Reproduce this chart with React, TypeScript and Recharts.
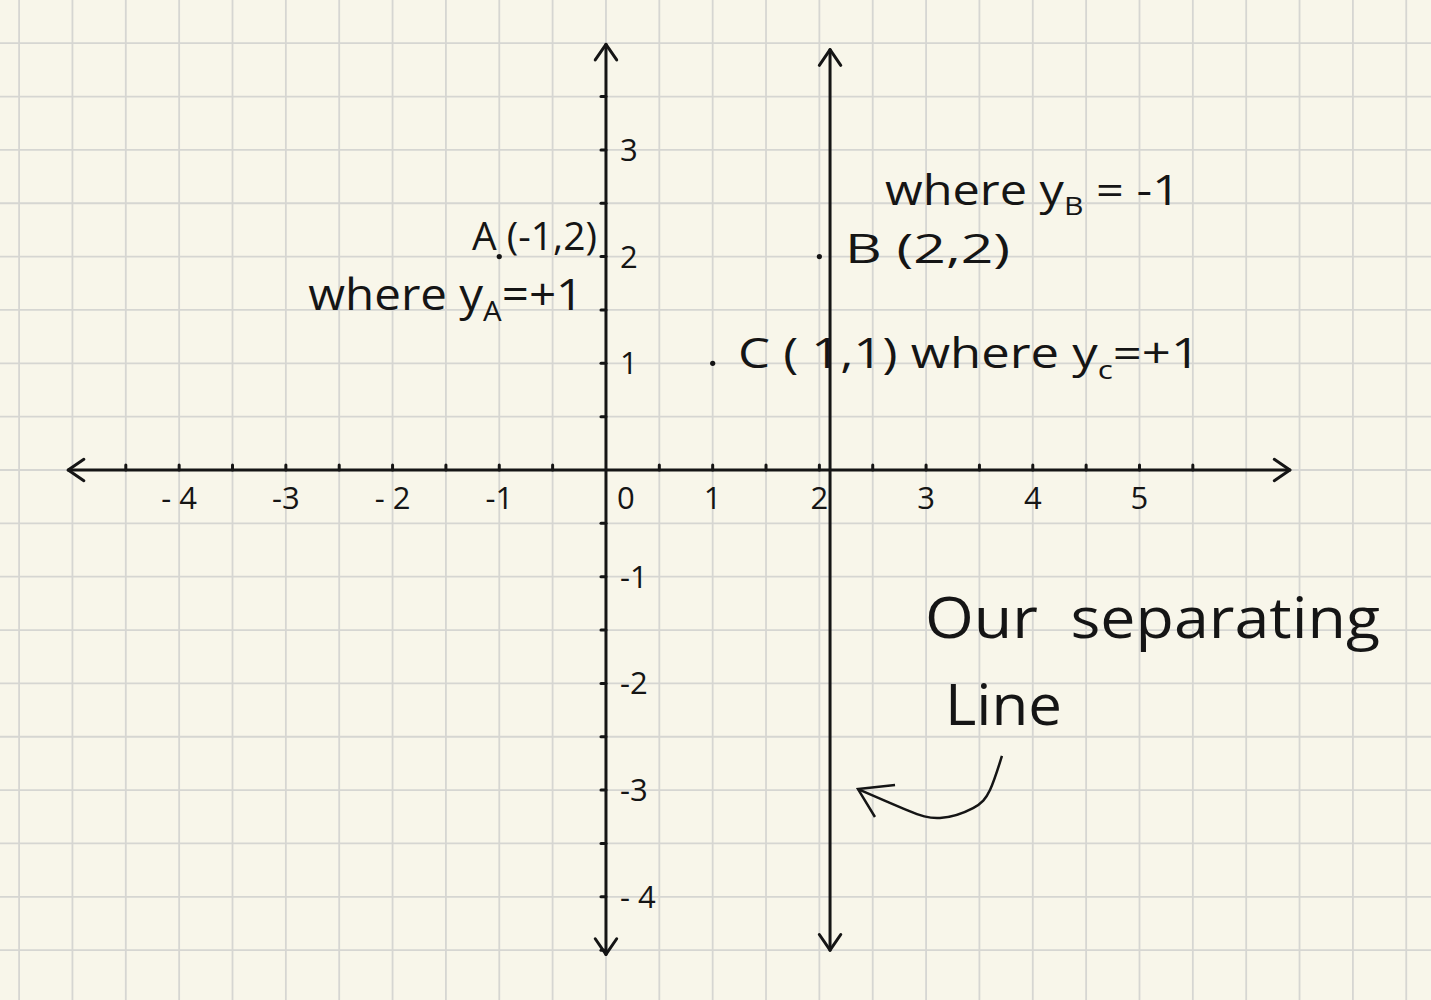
import React from 'react';
import { ComposedChart, XAxis, YAxis, CartesianGrid, ReferenceLine, Scatter, Line } from 'recharts';

// ---------- data ----------
const pointNames = ['A', 'B', 'C'];
const pointX = [-1, 2, 1];
const pointY = [2, 2, 1];

const xTickValues = [-4, -3, -2, -1, 0, 1, 2, 3, 4, 5];
const xTickLabels = ['- 4', '-3', '- 2', '-1', '0', '1', '2', '3', '4', '5'];
const yTickValues = [3, 2, 1, -1, -2, -3, -4];
const yTickLabels = ['3', '2', '1', '-1', '-2', '-3', '- 4'];
const xMinorTicks = [-4.5, -4, -3.5, -3, -2.5, -2, -1.5, -1, -0.5, 0.5, 1, 1.5, 2, 2.5, 3, 3.5, 4, 4.5, 5, 5.5];
const yMinorTicks = [3.5, 3, 2.5, 2, 1.5, 1, 0.5, -0.5, -1, -1.5, -2, -2.5, -3, -3.5, -4, -4.5];

const separatorX = 2.1;
const separatorTop = 3.94;
const separatorBottom = -4.5;
const xAxisLeft = -5.04;
const xAxisRight = 6.41;
const yAxisTop = 3.99;
const yAxisBottom = -4.54;

// graph-paper grid lines (half units)
const gridXValues = [-5.5, -5, -4.5, -4, -3.5, -3, -2.5, -2, -1.5, -1, -0.5, 0, 0.5, 1, 1.5, 2, 2.5, 3, 3.5, 4, 4.5, 5, 5.5, 6, 6.5, 7, 7.5];
const gridYValues = [4, 3.5, 3, 2.5, 2, 1.5, 1, 0.5, 0, -0.5, -1, -1.5, -2, -2.5, -3, -3.5, -4, -4.5];

// annotations: [text parts], anchor (data coords), textLength
type Part = [string, boolean];
const noteParts: Part[][] = [
  [['A (-1,2)', false]],
  [['where ', false], ['y', false], ['A', true], ['=+1', false]],
  [['where ', false], ['y', false], ['B', true], [' = -1', false]],
  [['B (2,2)', false]],
  [['C ( 1,1) where ', false], ['y', false], ['c', true], ['=+1', false]],
  [['Our  separating', false]],
  [['Line', false]],
];
const noteX = [-1.256, -2.79, 2.615, 2.24, 1.237, 2.99, 3.177];
const noteY = [2.062, 1.5, 2.484, 1.94, 0.956, -1.575, -2.39];
const noteWidth = [125, 275, 295, 165, 462, 455, 117];
const noteSize = [38, 44, 42, 40, 42, 56, 56];

// curved pointer arrow
const pointerX = [3.711, 3.599, 3.44, 3.13, 2.821, 2.362];
const pointerY = [-2.68, -2.999, -3.168, -3.261, -3.187, -2.99];
const pointerHeadX = [2.709, 2.362, 2.521];
const pointerHeadY = [-2.952, -2.99, -3.252];

// ---------- derived tables ----------
const points = pointNames.map((n, i) => ({ name: n, x: pointX[i], y: pointY[i] }));
const xTicks = xTickValues.map((v, i) => ({ x: v, y: 0, label: xTickLabels[i] }));
const yTicks = yTickValues.map((v, i) => ({ x: 0, y: v, label: yTickLabels[i] }));
const xMinor = xMinorTicks.map((v) => ({ x: v, y: 0 }));
const yMinor = yMinorTicks.map((v) => ({ x: 0, y: v }));
const notes = noteParts.map((p, i) => ({ x: noteX[i], y: noteY[i], parts: p, w: noteWidth[i], fs: noteSize[i] }));
const pointer = pointerX.map((x, i) => ({ x, y: pointerY[i] }));
const pointerHead = pointerHeadX.map((x, i) => ({ x, y: pointerHeadY[i] }));

const INK = '#151515';
const FONT = '"Open Sans", "DejaVu Sans", sans-serif';

const chevron = (tx: number, ty: number, fx: number, fy: number, len = 19, ang = 0.6) => {
  const a = Math.atan2(fy - ty, fx - tx);
  const p1 = [tx + len * Math.cos(a + ang), ty + len * Math.sin(a + ang)];
  const p2 = [tx + len * Math.cos(a - ang), ty + len * Math.sin(a - ang)];
  return `M${p1[0]},${p1[1]} L${tx},${ty} L${p2[0]},${p2[1]}`;
};

const ArrowLine = (props: any) => {
  const { x1, y1, x2, y2 } = props;
  return (
    <g>
      <line x1={x1} y1={y1} x2={x2} y2={y2} stroke={INK} strokeWidth={3} strokeLinecap="round" />
      <path d={chevron(x1, y1, x2, y2)} fill="none" stroke={INK} strokeWidth={3} strokeLinecap="round" strokeLinejoin="round" />
      <path d={chevron(x2, y2, x1, y1)} fill="none" stroke={INK} strokeWidth={3} strokeLinecap="round" strokeLinejoin="round" />
    </g>
  );
};

const XTickShape = (props: any) => {
  const { cx, cy, payload } = props;
  const dx = payload.x === 0 ? 20 : 0;
  return (
    <text x={cx + dx} y={cy + 39} textAnchor="middle" fontFamily={FONT} fontSize={31} fill={INK} style={{ whiteSpace: 'pre' }}>
      {payload.label}
    </text>
  );
};

const YTickShape = (props: any) => {
  const { cx, cy, payload } = props;
  return (
    <text x={cx + 14} y={cy + 11} textAnchor="start" fontFamily={FONT} fontSize={31} fill={INK} style={{ whiteSpace: 'pre' }}>
      {payload.label}
    </text>
  );
};

const XMinorShape = (props: any) => {
  const { cx, cy } = props;
  return <line x1={cx} y1={cy - 5} x2={cx} y2={cy} stroke={INK} strokeWidth={3} strokeLinecap="round" />;
};
const YMinorShape = (props: any) => {
  const { cx, cy } = props;
  return <line x1={cx - 5} y1={cy} x2={cx} y2={cy} stroke={INK} strokeWidth={3} strokeLinecap="round" />;
};

const DotShape = (props: any) => {
  const { cx, cy } = props;
  return <circle cx={cx} cy={cy} r={2.6} fill={INK} />;
};

const NoteShape = (props: any) => {
  const { cx, cy, payload } = props;
  const parts: Part[] = payload.parts;
  const fs: number = payload.fs;
  let subActive = false;
  return (
    <text x={cx} y={cy} fontFamily={FONT} fontSize={fs} fill={INK} textLength={payload.w} lengthAdjust="spacingAndGlyphs" style={{ whiteSpace: 'pre' }}>
      {parts.map(([t, sub], i) => {
        let dy = 0;
        if (sub && !subActive) { dy = fs * 0.25; subActive = true; }
        else if (!sub && subActive) { dy = -fs * 0.25; subActive = false; }
        return (
          <tspan key={i} dy={dy} fontSize={sub ? fs * 0.62 : fs}>
            {t}
          </tspan>
        );
      })}
    </text>
  );
};

export default function App() {
  return (
    <div style={{ position: 'absolute', left: 0, top: 0, width: 1431, height: 1000, background: '#f8f6ea', overflow: 'hidden' }}>
      <ComposedChart width={1431} height={1000} margin={{ top: 0, right: 0, bottom: 0, left: 0 }}>
        <XAxis type="number" dataKey="x" domain={[-5.679, 7.732]} allowDataOverflow hide />
        <YAxis type="number" dataKey="y" domain={[-4.967, 4.405]} allowDataOverflow hide />
        <CartesianGrid
          verticalValues={gridXValues}
          horizontalValues={gridYValues}
          stroke="#d6d6d2"
          strokeWidth={1.8}
        />
        <ReferenceLine segment={[{ x: xAxisLeft, y: 0 }, { x: xAxisRight, y: 0 }]} shape={ArrowLine} ifOverflow="visible" />
        <ReferenceLine segment={[{ x: 0, y: yAxisTop }, { x: 0, y: yAxisBottom }]} shape={ArrowLine} ifOverflow="visible" />
        <ReferenceLine segment={[{ x: separatorX, y: separatorTop }, { x: separatorX, y: separatorBottom }]} shape={ArrowLine} ifOverflow="visible" />
        <Scatter data={xMinor} dataKey="y" shape={XMinorShape} isAnimationActive={false} />
        <Scatter data={yMinor} dataKey="y" shape={YMinorShape} isAnimationActive={false} />
        <Scatter data={xTicks} dataKey="y" shape={XTickShape} isAnimationActive={false} />
        <Scatter data={yTicks} dataKey="y" shape={YTickShape} isAnimationActive={false} />
        <Scatter data={points} dataKey="y" shape={DotShape} isAnimationActive={false} />
        <Scatter data={notes} dataKey="y" shape={NoteShape} isAnimationActive={false} />
        <Line data={pointer} dataKey="y" type="natural" stroke={INK} strokeWidth={2.5} dot={false} activeDot={false} isAnimationActive={false} />
        <Line data={pointerHead} dataKey="y" type="linear" stroke={INK} strokeWidth={2.5} dot={false} activeDot={false} isAnimationActive={false} />
      </ComposedChart>
    </div>
  );
}
